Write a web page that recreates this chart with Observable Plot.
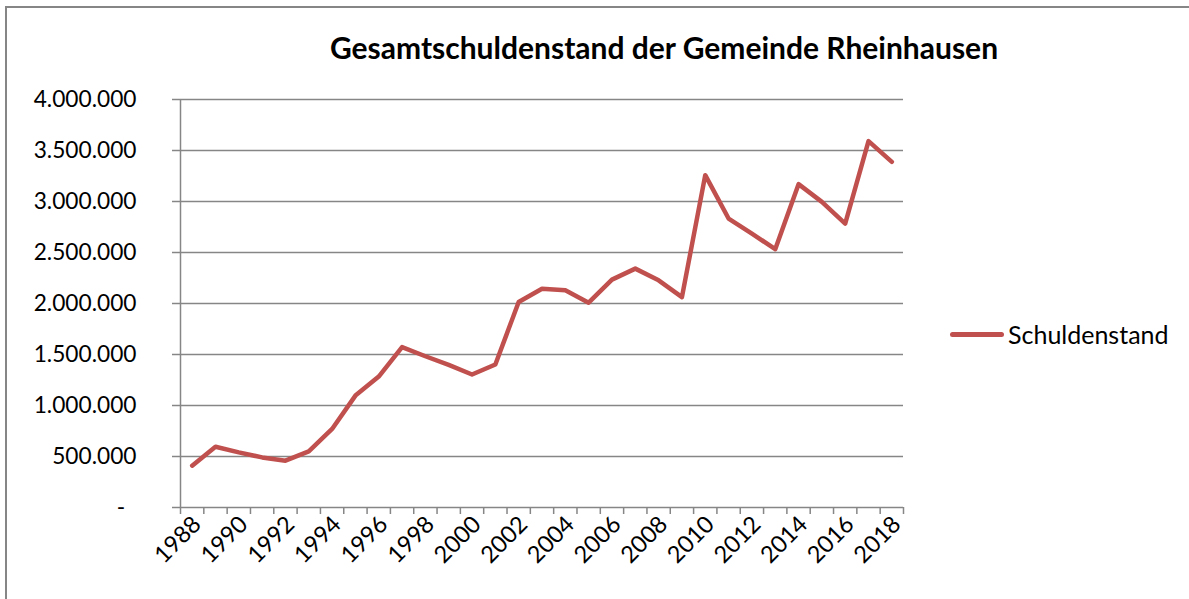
<!DOCTYPE html>
<html>
<head>
<meta charset="utf-8">
<script src="https://cdn.jsdelivr.net/npm/d3@7"></script>
<script src="https://cdn.jsdelivr.net/npm/@observablehq/plot@0.6"></script>
<style>
  html, body { margin: 0; padding: 0; background: #fff; }
  #wrap { position: relative; width: 1189px; height: 599px; overflow: hidden; font-family: Lato, "Open Sans", sans-serif; }
  #frame { position: absolute; left: 5px; top: 6px; width: 1400px; height: 800px; border-left: 2px solid #868686; border-top: 2px solid #868686; }
  #legend { position: absolute; left: 950px; top: 319px; display: flex; align-items: center; font-size: 25px; color: #000; }
  #legend .sw { width: 54px; height: 5px; background: #C0504D; border-radius: 3px; margin-right: 4px; }
  #chart { position: absolute; left: 0; top: 0; }
</style>
</head>
<body>
<div id="wrap">
  <div id="frame"></div>
  <div id="chart"></div>
  <div id="legend"><span class="sw"></span><span>Schuldenstand</span></div>
</div>
<script>
const title = "Gesamtschuldenstand der Gemeinde Rheinhausen";
const seriesName = "Schuldenstand";
const years = [1988,1989,1990,1991,1992,1993,1994,1995,1996,1997,1998,1999,2000,2001,2002,2003,2004,2005,2006,2007,2008,2009,2010,2011,2012,2013,2014,2015,2016,2017,2018];
const values = [410000,596000,540000,491000,459000,550000,770000,1097000,1284000,1572000,1483000,1399000,1304000,1402000,2014000,2145000,2129000,2008000,2234000,2342000,2227000,2063000,3258000,2833000,2686000,2532000,3170000,2996000,2784000,3592000,3389000];
const yTicks = [0,500000,1000000,1500000,2000000,2500000,3000000,3500000,4000000];
const xLabelYears = [1988,1990,1992,1994,1996,1998,2000,2002,2004,2006,2008,2010,2012,2014,2016,2018];

const data = years.map((y, i) => ({year: y, value: values[i]}));
const boundaries = years.map(y => y - 0.5).concat([years[years.length - 1] + 0.5]);
const gray = "#868686";
const fmt = d => d === 0 ? "-\u2002" : d3.format(",")(d).replace(/,/g, ".");

const chart = Plot.plot({
  width: 1189,
  height: 599,
  marginLeft: 180,
  marginRight: 286,
  marginTop: 99,
  marginBottom: 92,
  style: {fontFamily: "Lato, 'Open Sans', sans-serif", background: "transparent", overflow: "visible"},
  x: {type: "linear", domain: [years[0] - 0.5, years[years.length - 1] + 0.5]},
  y: {domain: [0, 4000000]},
  marks: [
    Plot.gridY(yTicks, {stroke: gray, strokeOpacity: 1, strokeWidth: 1.5}),
    Plot.ruleX([years[0] - 0.5], {stroke: gray, strokeWidth: 1.5}),
    Plot.axisY(yTicks, {tickSize: 8, tickPadding: 36, tickFormat: fmt, fontSize: 22.7, stroke: gray, fill: "#000", strokeWidth: 1.5, label: null}),
    Plot.axisX(boundaries, {tickSize: 7, tickFormat: () => "", stroke: gray, strokeWidth: 1.5, label: null}),
    Plot.axisX(xLabelYears, {tickSize: 0, tickRotate: -45, tickPadding: 13, dx: 5, fontSize: 23.5, fill: "#000", tickFormat: d => String(d), label: null}),
    Plot.lineY(data, {x: "year", y: "value", stroke: "#C0504D", strokeWidth: 4.5, strokeLinejoin: "round", strokeLinecap: "round"}),
    Plot.text([title], {frameAnchor: "top", dy: -62, fontSize: 30, fontWeight: "bold", fill: "#000", dx: 122})
  ]
});
document.getElementById("chart").appendChild(chart);
</script>
</body>
</html>
